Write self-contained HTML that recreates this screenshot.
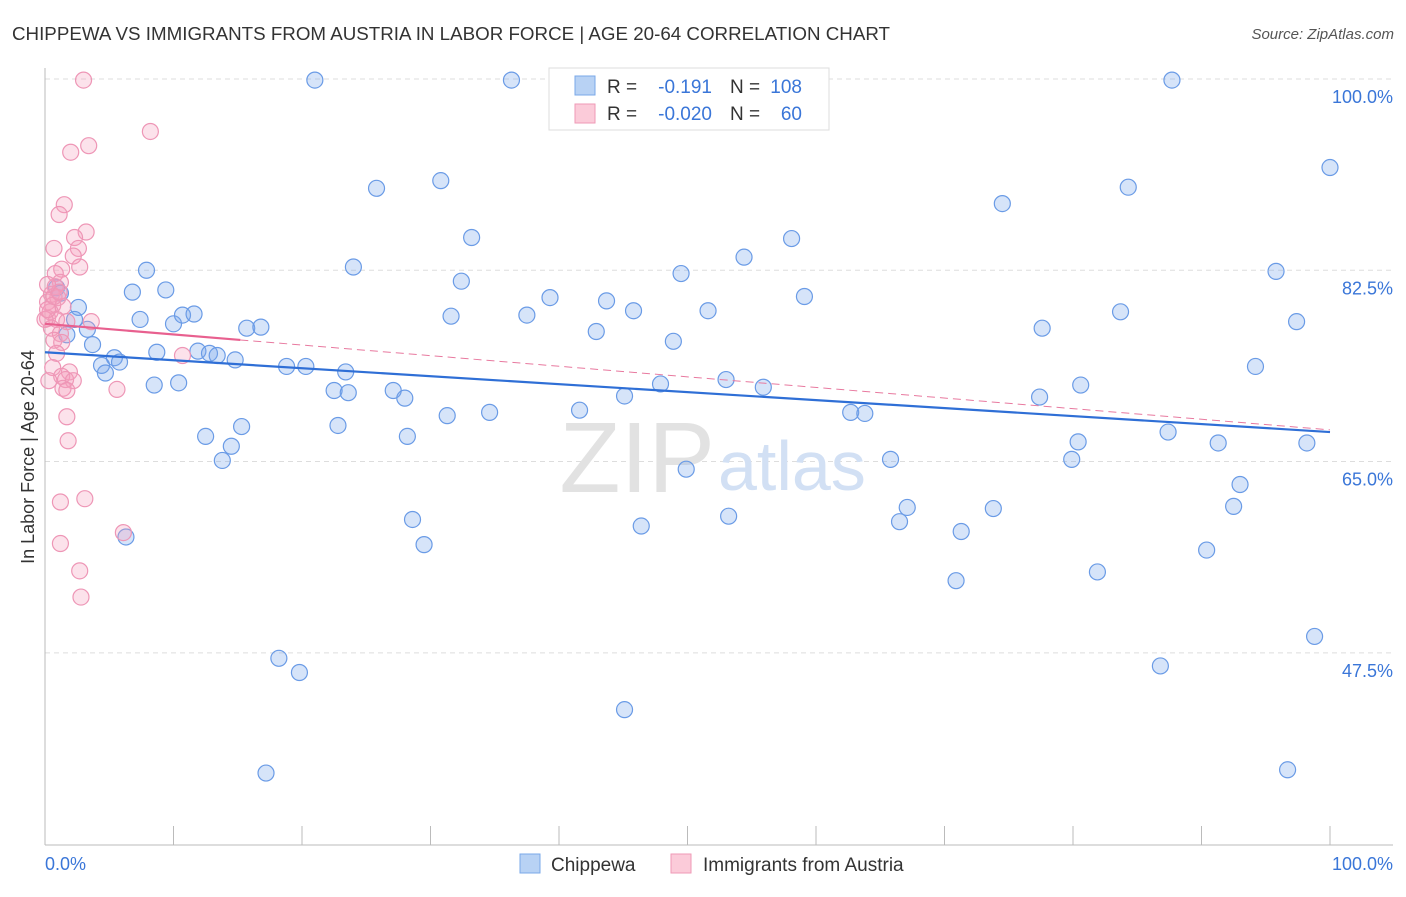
<!DOCTYPE html>
<html><head><meta charset="utf-8"><style>
body{margin:0;background:#fff;font-family:"Liberation Sans",sans-serif}
svg text{font-family:"Liberation Sans",sans-serif}
</style></head><body>
<svg id="chart" width="1406" height="892" xmlns="http://www.w3.org/2000/svg">
<text x="12" y="40" font-size="18" fill="#333" textLength="878" lengthAdjust="spacingAndGlyphs">CHIPPEWA VS IMMIGRANTS FROM AUSTRIA IN LABOR FORCE | AGE 20-64 CORRELATION CHART</text>
<text x="1394" y="39" font-size="15" fill="#555" font-style="italic" text-anchor="end">Source: ZipAtlas.com</text>
<g id="grid"></g>
<text x="715" y="492" font-size="100" fill="#e2e2e2" text-anchor="end" font-family="Liberation Serif">ZIP</text>
<text x="718" y="490" font-size="70" fill="#d2e0f4">atlas</text>
<g id="axes"></g>
<g id="pts"></g>
<g id="trends"></g>
<text transform="translate(34,457) rotate(-90)" font-size="18" fill="#333" text-anchor="middle">In Labor Force | Age 20-64</text>
<text x="45" y="870" font-size="18" fill="#3a76d8">0.0%</text>
<text x="1393" y="870" font-size="18" fill="#3a76d8" text-anchor="end">100.0%</text>
<g>
<rect x="549" y="68" width="280" height="62" fill="#fff" stroke="#ddd"/>
<rect x="575" y="76" width="20" height="19" fill="#b8d2f4" stroke="#7aa8e8"/>
<rect x="575" y="104" width="20" height="19" fill="#fbcbd9" stroke="#ef9ab6"/>
<text x="607" y="93" font-size="19" fill="#333">R =</text>
<text x="712" y="93" font-size="19" fill="#3a76d8" text-anchor="end">-0.191</text>
<text x="730" y="93" font-size="19" fill="#333">N =</text>
<text x="802" y="93" font-size="19" fill="#3a76d8" text-anchor="end">108</text>
<text x="607" y="120" font-size="19" fill="#333">R =</text>
<text x="712" y="120" font-size="19" fill="#3a76d8" text-anchor="end">-0.020</text>
<text x="730" y="120" font-size="19" fill="#333">N =</text>
<text x="802" y="120" font-size="19" fill="#3a76d8" text-anchor="end">60</text>
</g>
<g>
<rect x="520" y="854" width="20" height="19" fill="#b8d2f4" stroke="#7aa8e8"/>
<text x="551" y="871" font-size="19" fill="#333">Chippewa</text>
<rect x="671" y="854" width="20" height="19" fill="#fbcbd9" stroke="#ef9ab6"/>
<text x="703" y="871" font-size="19" fill="#333">Immigrants from Austria</text>
</g>
</svg>
<script>
const yTicks=[100,82.5,65,47.5];
const yTickLabels=["100.0%","82.5%","65.0%","47.5%"];
const xTicks=[0,10,20,30,40,50,60,70,80,90,100];
const blueX=[21.0,36.3,87.7,100,25.8,30.8,84.3,74.5,33.2,58.1,54.4,7.9,24.0,49.5,95.8,32.4,9.4,6.8,39.3,43.7,59.1,0.9,1.2,2.6,45.8,51.6,31.6,37.5,83.7,97.4,7.4,10.0,10.7,11.6,15.7,16.8,2.3,3.3,1.7,42.9,77.6,48.9,3.7,8.7,11.9,12.8,13.4,14.8,5.4,5.8,4.4,4.7,18.8,20.3,23.4,94.2,8.5,10.4,22.5,23.6,27.1,28.0,47.9,53.0,55.9,45.1,80.6,77.4,34.6,31.3,41.6,62.7,63.8,22.8,15.3,12.5,14.5,28.2,87.4,80.4,91.3,98.2,13.8,49.9,65.8,79.9,93.0,28.6,46.4,53.2,67.1,66.5,73.8,92.5,71.3,6.3,29.5,90.4,70.9,81.9,18.2,19.8,98.8,86.8,45.1,17.2,96.7];
const blueY=[99.9,99.9,99.9,91.9,90.0,90.7,90.1,88.6,85.5,85.4,83.7,82.5,82.8,82.2,82.4,81.5,80.7,80.5,80.0,79.7,80.1,80.9,80.4,79.1,78.8,78.8,78.3,78.4,78.7,77.8,78.0,77.6,78.4,78.5,77.2,77.3,78.0,77.1,76.6,76.9,77.2,76.0,75.7,75.0,75.1,74.9,74.7,74.3,74.5,74.1,73.8,73.1,73.7,73.7,73.2,73.7,72.0,72.2,71.5,71.3,71.5,70.8,72.1,72.5,71.8,71.0,72.0,70.9,69.5,69.2,69.7,69.5,69.4,68.3,68.2,67.3,66.4,67.3,67.7,66.8,66.7,66.7,65.1,64.3,65.2,65.2,62.9,59.7,59.1,60.0,60.8,59.5,60.7,60.9,58.6,58.1,57.4,56.9,54.1,54.9,47.0,45.7,49.0,46.3,42.3,36.5,36.8];
const pinkX=[3.0,8.2,3.4,2.0,1.5,1.1,3.2,2.3,0.7,2.6,2.2,2.7,1.3,0.8,1.2,0.8,0.5,1.0,0.2,0.6,1.4,0.4,0.2,0.9,1.7,3.6,0.5,1.2,0.7,1.3,10.7,0.9,0.6,1.9,1.3,0.3,1.6,2.2,1.4,1.7,5.6,1.7,1.8,1.2,3.1,6.1,1.2,2.7,2.8,0.0,0.2,0.7,1.1,0.2];
const pinkY=[99.9,95.2,93.9,93.3,88.5,87.6,86.0,85.5,84.5,84.5,83.8,82.8,82.6,82.2,81.4,81.0,80.3,80.0,79.6,79.3,79.2,78.7,78.1,78.0,77.8,77.8,77.2,76.7,76.1,75.9,74.7,74.9,73.6,73.2,72.8,72.4,72.5,72.4,71.7,71.5,71.6,69.1,66.9,61.3,61.6,58.5,57.5,55.0,52.6,78.0,78.9,80.1,80.5,81.2];
const blueTrend=[75.0,67.7];
const pinkTrend=[77.6,67.9];
const pinkSolidEnd=[15.2];

const NS="http://www.w3.org/2000/svg";
const X0=45,X1=1330,Y100=79,PX=10.93;
const sx=v=>X0+(X1-X0)*v/100;
const sy=v=>Y100+(100-v)*PX;
function mk(tag,attrs,parent){const e=document.createElementNS(NS,tag);for(const k in attrs)e.setAttribute(k,attrs[k]);document.getElementById(parent).appendChild(e);return e;}
yTicks.forEach((t,i)=>{
  const l=mk('line',{x1:X0,x2:1393,y1:sy(t),y2:sy(t),stroke:'#ddd','stroke-dasharray':'5,4'},'grid');
  
  
  const tx=mk('text',{x:1393,y:sy(t)+24,'font-size':18,fill:'#3a76d8','text-anchor':'end'},'grid');
  tx.textContent=yTickLabels[i];
  
  
});
const ax=mk('line',{x1:X0,x2:1393,y1:845,y2:845,stroke:'#bbb'},'axes');


const ay=mk('line',{x1:X0,x2:X0,y1:68,y2:845,stroke:'#bbb'},'axes');


xTicks.forEach(t=>{
  const l=mk('line',{x1:sx(t),x2:sx(t),y1:826,y2:845,stroke:'#bbb'},'axes');
  
  
});
blueX.forEach((x,i)=>{
  const c=mk('circle',{cx:sx(x),cy:sy(blueY[i]),r:8,fill:'rgba(120,165,235,0.3)',stroke:'#6a9be6','stroke-width':1.2},'pts');
  
  
});
pinkX.forEach((x,i)=>{
  const c=mk('circle',{cx:sx(x),cy:sy(pinkY[i]),r:8,fill:'rgba(245,160,190,0.3)',stroke:'#ee96b6','stroke-width':1.2},'pts');
  
  
});
const bt=mk('line',{x1:sx(0),y1:sy(blueTrend[0]),x2:sx(100),y2:sy(blueTrend[1]),stroke:'#2f6fd6','stroke-width':2.2},'trends');


const pyAt=x=>pinkTrend[0]+(pinkTrend[1]-pinkTrend[0])*x/100;
const pd=mk('line',{x1:sx(pinkSolidEnd[0]),y1:sy(pyAt(pinkSolidEnd[0])),x2:sx(100),y2:sy(pinkTrend[1]),stroke:'#e8799f','stroke-width':1,'stroke-dasharray':'8,5'},'trends');


const ps=mk('line',{x1:sx(0),y1:sy(pinkTrend[0]),x2:sx(pinkSolidEnd[0]),y2:sy(pyAt(pinkSolidEnd[0])),stroke:'#e8608f','stroke-width':2.2},'trends');


</script>
</body></html>
